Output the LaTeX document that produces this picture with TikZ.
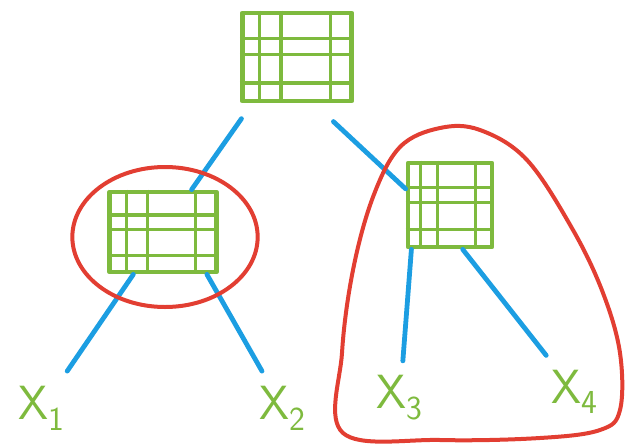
\documentclass[tikz,border=0pt]{standalone}
\usepackage{fontspec}
\usetikzlibrary{calc}
\definecolor{leafgreen}{RGB}{126,186,62}
\definecolor{edgeblue}{RGB}{28,158,226}
\definecolor{ringred}{RGB}{226,62,50}

\begin{document}
\begin{tikzpicture}[
      x=0.75pt, y=-0.75pt,
      table/.style={draw=leafgreen, line width=3.6pt, line join=round},
      gridline/.style={leafgreen, line width=2.4pt},
      branch/.style={edgeblue, line width=3.6pt, line cap=round},
      ring/.style={ringred, line width=3pt},
      leaf/.style={text=leafgreen, inner sep=2pt, outer sep=9pt,
                   font=\fontsize{36}{36}\selectfont\sffamily},
    ]
    \useasboundingbox (0,0) rectangle (628,443);
    % tables (tree nodes)
    \node[table, minimum width=82pt, minimum height=66pt] (root)  at (297,57)  {};
    \node[table, minimum width=80pt, minimum height=60pt] (left)  at (163,232) {};
    \node[table, minimum width=63pt, minimum height=63pt] (right) at (450,205) {};
    % grid lines inside each table
    \foreach \t in {root,left,right}{
      \foreach \f in {0.17,0.36,0.79}{
        \draw[gridline] ($(\t.north west)!\f!(\t.north east)$) -- ($(\t.south west)!\f!(\t.south east)$);
      }
      \foreach \f in {0.3,0.47,0.78}{
        \draw[gridline] ($(\t.north west)!\f!(\t.south west)$) -- ($(\t.north east)!\f!(\t.south east)$);
      }
    }
    % leaves
    \node[leaf] (x1) at (42,408)  {X$_{\mathsf{1}}$};
    \node[leaf] (x2) at (283,408) {X$_{\mathsf{2}}$};
    \node[leaf] (x3) at (400,398) {X$_{\mathsf{3}}$};
    \node[leaf] (x4) at (575,392) {X$_{\mathsf{4}}$};
    % branches
    \draw[branch, shorten <=14pt] (root.-134) -- (left.56);
    \draw[branch, shorten <=20pt] (root.-70) -- (right.160);
    \draw[branch] (left.-125) -- (x1);
    \draw[branch] (left.-44) -- (x2);
    \draw[branch] (right.-131) -- (x3);
    \draw[branch] (right.-74) -- (x4);
    % highlighted subtrees
    \draw[ring] (165,237) ellipse [x radius=69.5pt, y radius=52.5pt];
    \draw[ring] plot[smooth cycle, tension=0.6] coordinates {
      (440,128) (480,130) (527,160) (573,230) (603,293) (620,353) (620,410)
      (600,430) (540,438) (440,440) (343,433) (342,353) (353,270) (373,197) (400,147)};
  \end{tikzpicture}
\end{document}
